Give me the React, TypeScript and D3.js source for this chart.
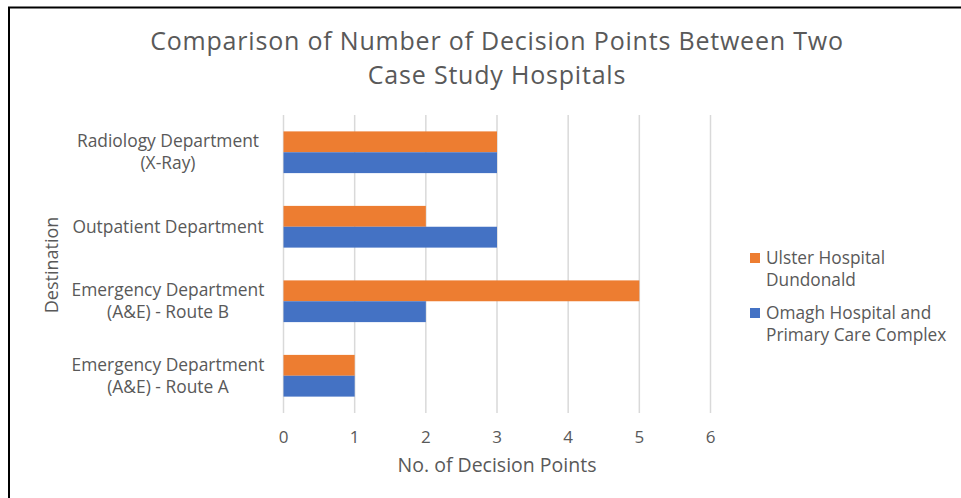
import React, { useRef, useEffect } from "react";
import * as d3 from "d3";

const categories = [
  ["Radiology Department", "(X-Ray)"],
  ["Outpatient Department"],
  ["Emergency Department", "(A&E) - Route B"],
  ["Emergency Department", "(A&E) - Route A"],
];
const ulster = [3, 2, 5, 1];
const omagh = [3, 3, 2, 1];
const seriesNames = [
  ["Ulster Hospital", "Dundonald"],
  ["Omagh Hospital and", "Primary Care Complex"],
];
const xTicks = [0, 1, 2, 3, 4, 5, 6];
const colors = ["#ED7D31", "#4472C4"];

function App() {
  const ref = useRef<SVGSVGElement>(null);

  useEffect(() => {
    const width = 961;
    const height = 498;
    const font = "'Open Sans', sans-serif";
    const textColor = "#595959";

    const svg = d3.select(ref.current);
    svg.selectAll("*").remove();
    svg.attr("viewBox", [0, 0, width, height]).style("font-family", font);

    svg.append("rect").attr("width", width).attr("height", height).attr("fill", "#fff");

    // frame (only top and left edges visible)
    svg.append("path")
      .attr("d", `M9,${height} V7.5 H${width}`)
      .attr("fill", "none")
      .attr("stroke", "#000")
      .attr("stroke-width", 2);

    const x = d3.scaleLinear().domain([0, 6]).range([283.5, 710.5]);
    const y = d3.scaleBand<number>()
      .domain(d3.range(categories.length))
      .range([115, 413])
      .paddingInner(0.44)
      .paddingOuter(0.22);
    const sub = d3.scaleBand<number>().domain([0, 1]).range([0, y.bandwidth()]);

    // title
    const title = svg.append("text")
      .attr("text-anchor", "middle")
      .attr("fill", textColor)
      .style("font-size", "25px")
      .style("letter-spacing", "0.8px");
    title.append("tspan").attr("x", 497).attr("y", 50).text("Comparison of Number of Decision Points Between Two");
    title.append("tspan").attr("x", 497).attr("y", 84).text("Case Study Hospitals");

    // gridlines
    svg.append("g")
      .selectAll("line")
      .data(xTicks)
      .join("line")
      .attr("x1", (d) => x(d))
      .attr("x2", (d) => x(d))
      .attr("y1", 115)
      .attr("y2", 413)
      .attr("stroke", "#d9d9d9")
      .attr("stroke-width", 1.5);

    // bars
    const series = [ulster, omagh];
    series.forEach((vals, s) => {
      svg.append("g")
        .selectAll("rect")
        .data(vals)
        .join("rect")
        .attr("x", x(0))
        .attr("y", (d, i) => (y(i) as number) + (sub(s) as number))
        .attr("width", (d) => x(d) - x(0))
        .attr("height", sub.bandwidth())
        .attr("fill", colors[s]);
    });

    // x tick labels
    svg.append("g")
      .selectAll("text")
      .data(xTicks)
      .join("text")
      .attr("x", (d) => x(d))
      .attr("y", 443)
      .attr("text-anchor", "middle")
      .attr("fill", textColor)
      .style("font-size", "17px")
      .text((d) => d);

    // category labels
    const cat = svg.append("g")
      .selectAll("text")
      .data(categories)
      .join("text")
      .attr("text-anchor", "middle")
      .attr("fill", textColor)
      .style("font-size", "17.4px");
    cat.each(function (lines, i) {
      const cy = (y(i) as number) + y.bandwidth() / 2;
      const lh = 22;
      const start = cy - ((lines.length - 1) * lh) / 2 + 6;
      d3.select(this)
        .selectAll("tspan")
        .data(lines)
        .join("tspan")
        .attr("x", 168)
        .attr("y", (d, j) => start + j * lh)
        .text((d) => d);
    });

    // axis titles
    svg.append("text")
      .attr("x", 497)
      .attr("y", 472)
      .attr("text-anchor", "middle")
      .attr("fill", textColor)
      .style("font-size", "19.5px")
      .text("No. of Decision Points");

    svg.append("text")
      .attr("transform", "translate(58,265) rotate(-90)")
      .attr("text-anchor", "middle")
      .attr("fill", textColor)
      .style("font-size", "18px")
      .text("Destination");

    // legend
    const legend = svg.append("g")
      .selectAll("g")
      .data(seriesNames)
      .join("g")
      .attr("transform", (d, i) => `translate(750,${258 + i * 55})`);
    legend.append("rect")
      .attr("x", 0)
      .attr("y", -5)
      .attr("width", 10)
      .attr("height", 10)
      .attr("fill", (d, i) => colors[i]);
    legend.append("text")
      .attr("fill", textColor)
      .style("font-size", "17.3px")
      .each(function (lines) {
        d3.select(this)
          .selectAll("tspan")
          .data(lines)
          .join("tspan")
          .attr("x", 16)
          .attr("y", (d, j) => 6 + j * 22)
          .text((d) => d);
      });
  }, []);

  return <svg ref={ref} width={961} height={498} style={{ display: "block", position: "absolute", left: 0, top: 0 }} />;
}

export default App;
